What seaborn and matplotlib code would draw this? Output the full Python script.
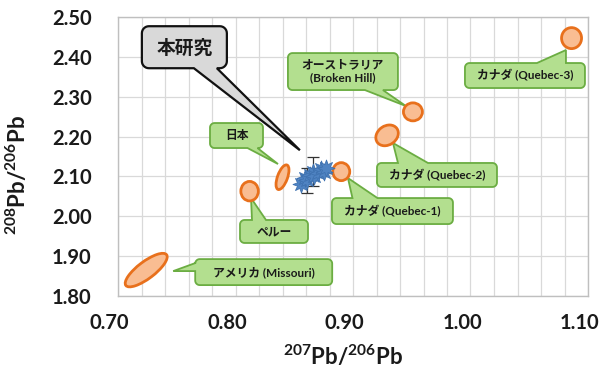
import numpy as np
import pandas as pd
import matplotlib
matplotlib.use("Agg")
import matplotlib.pyplot as plt
import seaborn as sns
from matplotlib import transforms
from matplotlib.patches import Ellipse, Polygon

# ---- data -------------------------------------------------------------
# Lead isotope fields of ore deposits (centre of each field)
region_labels = ["アメリカ (Missouri)", "ペルー", "日本", "カナダ (Quebec-1)",
                 "カナダ (Quebec-2)", "オーストラリア\n(Broken Hill)", "カナダ (Quebec-3)"]
region_x = [0.724, 0.812, 0.840, 0.890, 0.929, 0.951, 1.086]
region_y = [1.865, 2.063, 2.098, 2.112, 2.203, 2.262, 2.447]

# Samples measured in this study
study_label = "本研究"
study_x = [0.856, 0.859, 0.861, 0.863, 0.866, 0.867, 0.870, 0.873, 0.875, 0.877]
study_y = [2.082, 2.095, 2.090, 2.103, 2.112, 2.100, 2.108, 2.118, 2.110, 2.120]
study_yerr = [0.0, 0.0, 0.032, 0.0, 0.037, 0.0, 0.0, 0.0, 0.0, 0.0]

x_ticks = [0.70, 0.80, 0.90, 1.00, 1.10]
y_ticks = [1.80, 1.90, 2.00, 2.10, 2.20, 2.30, 2.40, 2.50]

# ---- styling ----------------------------------------------------------
# ellipse shape of each field in pixels: (width, height, angle)
region_shapes = [(51, 17, 37), (17.5, 19.5, 0), (26, 10, 70), (17, 18, 0),
                 (24, 19, 35), (19, 18, 0), (20, 21, 0)]
# callout layout in pixels: tip offset from field centre, box centre offset
# from tip, box size, side carrying the pointer, pointer base along that side
region_callouts = [
    ((27, -1), (90.5, -1), (137, 26), "left", (1, 9)),
    ((1.4, -6.8), (23, -33.5), (68, 23), "top", (-22, -8)),
    ((-4.5, 13.2), (-41.5, 28.5), (53, 25), "bottom", (11, 21)),
    ((6.7, -6.4), (44.5, -33), (121, 26), "top", (-40, -15)),
    ((5.9, -7.6), (44, -32), (120, 24), "top", (-39, -9)),
    ((-7, 5.8), (-63, 34.5), (110, 37), "bottom", (22, 40)),
    ((-5.6, -11.9), (-41, -25.5), (120, 25), "top", (12, 41)),
]

ORANGE_EDGE = "#e8701c"
ORANGE_FILL = "#f9bd92"
GREEN_FILL = "#b3df8f"
GREEN_EDGE = "#6bad42"
BLUE = "#4f83c2"
INK = "#1a1a1a"

sns.set_theme(style="white")
plt.rcParams["font.family"] = ["Lato", "Noto Sans CJK JP", "DejaVu Sans"]
plt.rcParams["mathtext.fontset"] = "custom"
plt.rcParams["mathtext.rm"] = "Lato:bold"
plt.rcParams["mathtext.it"] = "Lato:bold"
plt.rcParams["mathtext.bf"] = "Lato:bold"

fig = plt.figure(figsize=(6.11, 3.69), dpi=100)
ax = fig.add_axes([118 / 611, 73 / 369, 470 / 611, 279 / 369])
ax.set_xlim(0.70, 1.10)
ax.set_ylim(1.80, 2.50)

ax.set_xticks(x_ticks)
ax.set_xticklabels([f"{v:.2f}" for v in x_ticks])
ax.set_xticks(np.arange(0.70, 1.1001, 0.02), minor=True)
ax.set_yticks(y_ticks)
ax.set_yticklabels([f"{v:.2f}" for v in y_ticks])
ax.set_yticks(np.arange(1.80, 2.5001, 0.02), minor=True)

ax.grid(which="both", axis="x", color="#d9d9d9", lw=0.9)
ax.grid(which="major", axis="y", color="#d9d9d9", lw=0.9)
ax.set_axisbelow(True)
for sp in ax.spines.values():
    sp.set_color("#bfbfbf")
    sp.set_linewidth(1.0)

ax.tick_params(axis="both", which="both", direction="in", length=5,
               color="#a6a6a6", width=0.8)
ax.tick_params(axis="y", which="both", labelsize=14.5, pad=19)
ax.tick_params(axis="x", which="both", labelsize=14.5, pad=12)
for lab in ax.get_xticklabels() + ax.get_yticklabels():
    lab.set_fontweight("bold")
    lab.set_color(INK)
shift = transforms.ScaledTranslation(-6 / 72, 0, fig.dpi_scale_trans)
for lab in ax.get_xticklabels():
    lab.set_transform(lab.get_transform() + shift)


def callout(tip_disp, box_rel, size, side, base, fc, ec, lw, r=4.5):
    """Rounded box with a triangular pointer, built in display pixels."""
    tx, ty = tip_disp
    cx, cy = tx + box_rel[0], ty + box_rel[1]
    w, h = size
    x0, x1, y0, y1 = cx - w / 2, cx + w / 2, cy - h / 2, cy + h / 2
    s1, s2 = base

    def arc(xc, yc, a0, a1):
        t = np.radians(np.linspace(a0, a1, 8))
        return list(zip(xc + r * np.cos(t), yc + r * np.sin(t)))

    v = [(x0 + r, y0)]
    if side == "bottom":
        v += [(cx + s1, y0), (tx, ty), (cx + s2, y0)]
    v += [(x1 - r, y0)] + arc(x1 - r, y0 + r, -90, 0)
    if side == "right":
        v += [(x1, cy + s1), (tx, ty), (x1, cy + s2)]
    v += [(x1, y1 - r)] + arc(x1 - r, y1 - r, 0, 90)
    if side == "top":
        v += [(cx + s2, y1), (tx, ty), (cx + s1, y1)]
    v += [(x0 + r, y1)] + arc(x0 + r, y1 - r, 90, 180)
    if side == "left":
        v += [(x0, cy + s2), (tx, ty), (x0, cy + s1)]
    v += [(x0, y0 + r)] + arc(x0 + r, y0 + r, 180, 270)
    inv = ax.transData.inverted()
    poly = Polygon(inv.transform(np.array(v)), closed=True, fc=fc, ec=ec,
                   lw=lw, joinstyle="miter", zorder=3, clip_on=False)
    ax.add_patch(poly)
    return inv.transform((cx, cy))


# isotope fields with their callouts
for lab, x, y, shp, (tip_off, box_rel, size, side, base) in zip(
        region_labels, region_x, region_y, region_shapes, region_callouts):
    cxd, cyd = ax.transData.transform((x, y))
    tip = (cxd + tip_off[0], cyd + tip_off[1])
    tc = callout(tip, box_rel, size, side, base, GREEN_FILL, GREEN_EDGE, 1.3)
    ax.text(tc[0], tc[1], lab, ha="center", va="center", fontsize=8.5,
            fontweight="bold", color=INK, linespacing=1.25, zorder=6)
    w, h, ang = shp
    tr = transforms.Affine2D() + transforms.ScaledTranslation(x, y, ax.transData)
    ax.add_patch(Ellipse((0, 0), w, h, angle=ang, transform=tr,
                         fc=ORANGE_FILL, ec=ORANGE_EDGE, lw=2.0, zorder=4))

# samples of this study
df = pd.DataFrame({"x": study_x, "y": study_y, "yerr": study_yerr})
eb = df[df["yerr"] > 0]
ax.errorbar(eb["x"], eb["y"], yerr=eb["yerr"], fmt="none", ecolor="#333333",
            elinewidth=0.9, capsize=4, capthick=0.9, zorder=5)
sns.scatterplot(data=df, x="x", y="y", ax=ax, marker=(8, 1, 0), s=150,
                color=BLUE, edgecolor="#3f72b0", linewidth=0.6, zorder=6,
                legend=False)

ax.set_xlabel(r"$^{207}$Pb/$^{206}$Pb", fontsize=16, fontweight="bold", color=INK)
ax.set_ylabel(r"$^{208}$Pb/$^{206}$Pb", fontsize=16, fontweight="bold", color=INK)
ax.xaxis.set_label_coords(0.479, -0.172)
ax.yaxis.set_label_coords(-0.187, 0.435)

mx, my = ax.transData.transform((np.mean(study_x), np.mean(study_y)))
tc = callout((mx - 14, my + 24.7), (-115.5, 103), (85, 42), "bottom",
             (9.5, 32.5), "#d9d9d9", "#111111", 1.6, r=7)
ax.text(tc[0], tc[1], study_label, ha="center", va="center", fontsize=13.5,
        fontweight="bold", color=INK, zorder=6)

ax.set_xlim(0.70, 1.10)
ax.set_ylim(1.80, 2.50)
fig.savefig("out.png", dpi=100)
